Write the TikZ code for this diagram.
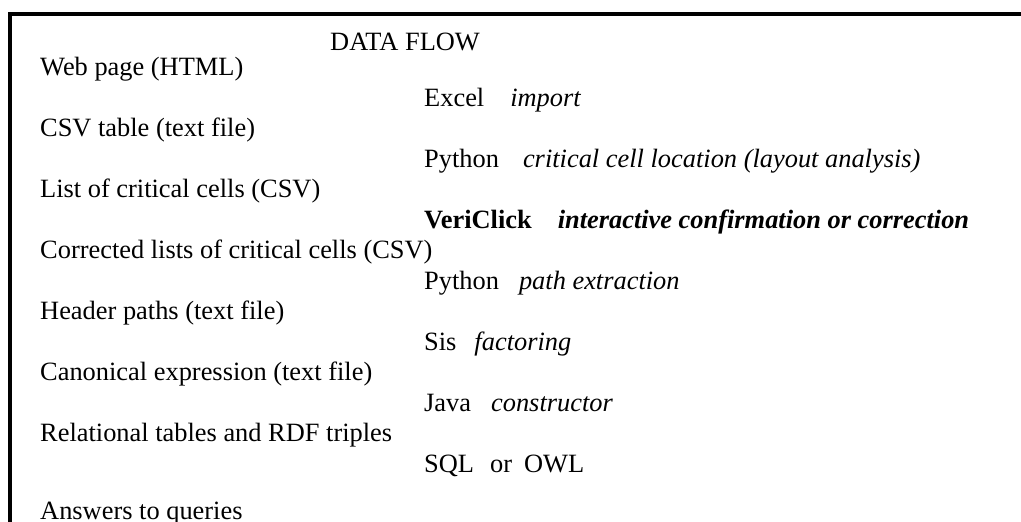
\documentclass[tikz,border=0pt]{standalone}
\usepackage{fontspec}
\setmainfont{Liberation Serif}
\usepackage{tikz}
\usetikzlibrary{positioning}

\begin{document}
\begin{tikzpicture}[x=1pt, y=1pt, font=\fontsize{26.4}{30}\selectfont,
		row/.style={inner sep=0pt, text height=18pt, text depth=6pt},
		frame/.style={line width=4pt}]
		\useasboundingbox (0,0) rectangle (1021,-522);
		\draw[frame] (9.5,-530) |- (1030,-13.5);
		\node[row, anchor=north west] (title) at (330,-32.75) {DATA FLOW};
		\node[row, anchor=north west] (web) at (40,-57.75) {Web page (HTML)};
		\node[row, below right=6.25pt and 384pt of web.south west] (excel) {Excel\hspace{26pt}\textit{import}};
		\node[row, below right=36.5pt and 0pt of web.south west] (csv) {CSV table (text file)};
		\node[row, below right=6.25pt and 384pt of csv.south west] (layout) {Python\hspace{24pt}\textit{critical cell location (layout analysis)}};
		\node[row, below right=36.5pt and 0pt of csv.south west] (cells) {List of critical cells (CSV)};
		\node[row, below right=6.25pt and 384pt of cells.south west] (vericlick) {\textbf{VeriClick\hspace{26pt}\textit{interactive confirmation or correction}}};
		\node[row, below right=36.5pt and 0pt of cells.south west] (corrected) {Corrected lists of critical cells (CSV)};
		\node[row, below right=6.25pt and 384pt of corrected.south west] (paths) {Python\hspace{20pt}\textit{path extraction}};
		\node[row, below right=36.5pt and 0pt of corrected.south west] (header) {Header paths (text file)};
		\node[row, below right=6.25pt and 384pt of header.south west] (sis) {Sis\hspace{18pt}\textit{factoring}};
		\node[row, below right=36.5pt and 0pt of header.south west] (canonical) {Canonical expression (text file)};
		\node[row, below right=6.25pt and 384pt of canonical.south west] (java) {Java\hspace{20pt}\textit{constructor}};
		\node[row, below right=36.5pt and 0pt of canonical.south west] (tables) {Relational tables and RDF triples};
		\node[row, below right=6.25pt and 384pt of tables.south west] (sql) {SQL\hspace{16pt}or\hspace{12pt}OWL};
		\node[row, below right=54pt and 0pt of tables.south west] (answers) {Answers to queries};
	\end{tikzpicture}
\end{document}
